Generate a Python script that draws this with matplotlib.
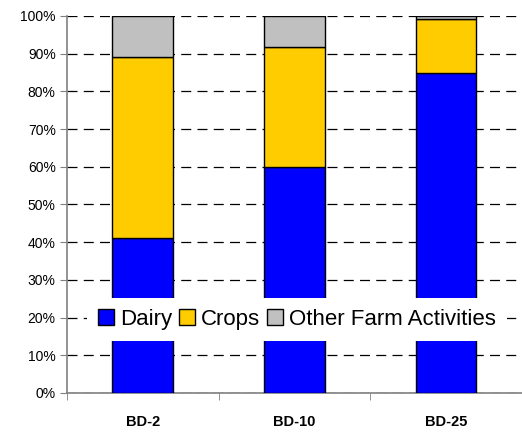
import matplotlib
matplotlib.use("Agg")
import matplotlib.pyplot as plt
import numpy as np

categories = ["BD-2", "BD-10", "BD-25"]
dairy = [41.2, 60.0, 84.8]
crops = [47.9, 31.8, 14.3]
other = [10.9, 8.2, 0.9]
series_names = ["Dairy", "Crops", "Other Farm Activities"]
colors = ["#0000FF", "#FFCC00", "#C0C0C0"]
yticks = [0, 10, 20, 30, 40, 50, 60, 70, 80, 90, 100]

plt.rcParams['font.family'] = ['Liberation Sans', 'DejaVu Sans']

fig = plt.figure(figsize=(5.22, 4.32), dpi=100)
ax = fig.add_axes([0.128, 0.0903, 0.872, 0.8727])

x = np.arange(len(categories))
bottom = np.zeros(len(categories))
for vals, name, c in zip([dairy, crops, other], series_names, colors):
    ax.bar(x, vals, 0.4, bottom=bottom, color=c, edgecolor="black",
           linewidth=1.0, label=name, zorder=3)
    bottom += np.array(vals)

ax.set_xlim(-0.5, 2.5)
ax.set_ylim(0, 100)
ax.set_yticks(yticks)
ax.set_yticklabels([f"{v}%" for v in yticks], fontsize=10)
ax.set_xticks(x)
ax.set_xticklabels(categories, fontsize=10.5, fontweight="bold")
ax.tick_params(axis='x', length=0, pad=16)
ax.set_xticks([-0.5, 0.5, 1.5, 2.5], minor=True)
ax.tick_params(axis='x', which='minor', length=5, direction='out', color='#808080')
ax.tick_params(axis='y', length=5, direction='out', color='#808080', pad=3)

ax.yaxis.grid(True, color='black', linestyle=(0, (8, 5)), linewidth=0.9, zorder=0)
ax.set_axisbelow(True)
for s in ["top", "right"]:
    ax.spines[s].set_visible(False)
for s in ["left", "bottom"]:
    ax.spines[s].set_color("#808080")
    ax.spines[s].set_linewidth(1.2)

leg = ax.legend(loc="center", bbox_to_anchor=(0.505, 0.195), ncol=3, fontsize=16,
                frameon=True, fancybox=False, framealpha=1, edgecolor='none',
                facecolor='white', handlelength=0.75, handleheight=0.75,
                handletextpad=0.25, columnspacing=0.3, borderpad=0.5,
                borderaxespad=0)
leg.set_zorder(5)

fig.savefig("out.png", dpi=100)
